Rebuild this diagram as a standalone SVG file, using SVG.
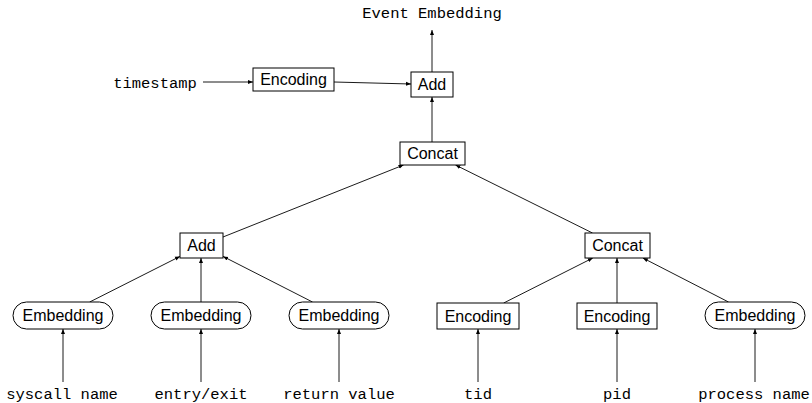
<svg xmlns="http://www.w3.org/2000/svg" width="812" height="403" viewBox="0 0 812 403">
  <style>
    .box { fill: #fff; stroke: #000; stroke-width: 1; }
    .lbl { font-family: "Liberation Sans", "DejaVu Sans", sans-serif; font-size: 16px; fill: #000; text-anchor: middle; dominant-baseline: central; }
    .tt { font-family: "Liberation Mono", "DejaVu Sans Mono", monospace; font-size: 15.5px; fill: #000; text-anchor: middle; }
    .edge { stroke: #000; stroke-width: 0.9; fill: none; marker-end: url(#tip); }
  </style>
  <defs>
    <marker id="tip" viewBox="0 0 10 10" refX="10" refY="5" markerWidth="5" markerHeight="5" orient="auto" markerUnits="userSpaceOnUse">
      <path d="M0,1 L10,5 L0,9 Z" fill="#000"/>
    </marker>
  </defs>
  <rect width="812" height="403" fill="#fff"/>

  <!-- inputs and output labels -->
  <g id="labels">
    <text class="tt" x="432" y="18">Event Embedding</text>
    <text class="tt" x="155" y="88" >timestamp</text>
    <text class="tt" x="62" y="399">syscall name</text>
    <text class="tt" x="201" y="399">entry/exit</text>
    <text class="tt" x="339" y="399">return value</text>
    <text class="tt" x="478" y="399">tid</text>
    <text class="tt" x="617" y="399">pid</text>
    <text class="tt" x="754" y="399">process name</text>
  </g>

  <!-- connectors -->
  <g id="connectors">
    <line class="edge" x1="432" y1="72" x2="432" y2="30"/>
    <line class="edge" x1="203" y1="82" x2="253" y2="82"/>
    <line class="edge" x1="334" y1="82" x2="411" y2="84"/>
    <line class="edge" x1="432" y1="142" x2="432" y2="97"/>
    <line class="edge" x1="223" y1="237" x2="403.5" y2="165"/>
    <line class="edge" x1="592.5" y1="233" x2="455.5" y2="165"/>
    <line class="edge" x1="89.7" y1="302" x2="180" y2="256.4"/>
    <line class="edge" x1="201" y1="302" x2="201" y2="258"/>
    <line class="edge" x1="312.5" y1="302" x2="223" y2="256.4"/>
    <line class="edge" x1="503.7" y1="303" x2="592.8" y2="258"/>
    <line class="edge" x1="617" y1="303" x2="617" y2="258"/>
    <line class="edge" x1="728.5" y1="302" x2="642.9" y2="258"/>
    <line class="edge" x1="63" y1="382" x2="63" y2="329"/>
    <line class="edge" x1="201" y1="382" x2="201" y2="329"/>
    <line class="edge" x1="339" y1="382" x2="339" y2="329"/>
    <line class="edge" x1="478" y1="382" x2="478" y2="329"/>
    <line class="edge" x1="617" y1="382" x2="617" y2="329"/>
    <line class="edge" x1="755" y1="382" x2="755" y2="329"/>
  </g>

  <!-- nodes -->
  <g id="ts-encoding">
    <rect class="box" x="253" y="68" width="81" height="23"/>
    <text class="lbl" x="293.5" y="79.5">Encoding</text>
  </g>
  <g id="top-add">
    <rect class="box" x="411" y="72" width="42" height="25"/>
    <text class="lbl" x="432" y="84.5">Add</text>
  </g>
  <g id="top-concat">
    <rect class="box" x="400" y="142" width="65" height="23"/>
    <text class="lbl" x="432.5" y="153.5">Concat</text>
  </g>
  <g id="left-add">
    <rect class="box" x="180" y="233" width="43" height="25"/>
    <text class="lbl" x="201.5" y="245.5">Add</text>
  </g>
  <g id="right-concat">
    <rect class="box" x="585" y="233" width="65" height="25"/>
    <text class="lbl" x="617.5" y="245.5">Concat</text>
  </g>
  <g id="emb-syscall">
    <rect class="box" x="13" y="302" width="100" height="27" rx="13.5"/>
    <text class="lbl" x="63" y="315.5">Embedding</text>
  </g>
  <g id="emb-entry">
    <rect class="box" x="151" y="302" width="100" height="27" rx="13.5"/>
    <text class="lbl" x="201" y="315.5">Embedding</text>
  </g>
  <g id="emb-retval">
    <rect class="box" x="289" y="302" width="100" height="27" rx="13.5"/>
    <text class="lbl" x="339" y="315.5">Embedding</text>
  </g>
  <g id="enc-tid">
    <rect class="box" x="437" y="303" width="82" height="26"/>
    <text class="lbl" x="478" y="316">Encoding</text>
  </g>
  <g id="enc-pid">
    <rect class="box" x="577" y="303" width="80" height="26"/>
    <text class="lbl" x="617" y="316">Encoding</text>
  </g>
  <g id="emb-pname">
    <rect class="box" x="705" y="302" width="100" height="27" rx="13.5"/>
    <text class="lbl" x="755" y="315.5">Embedding</text>
  </g>
</svg>
